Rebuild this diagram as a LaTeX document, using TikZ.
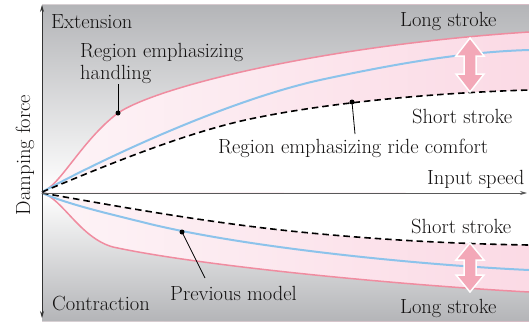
\documentclass[tikz,border=0pt]{standalone}
\usetikzlibrary{arrows.meta}
\definecolor{bggray}{RGB}{180,181,184}
\definecolor{pinkline}{RGB}{240,140,160}
\definecolor{blueline}{RGB}{140,195,235}
\definecolor{pinkL}{RGB}{253,244,247}
\definecolor{pinkR}{RGB}{251,218,229}
\definecolor{arrowpink}{RGB}{243,168,184}
\definecolor{txt}{RGB}{20,18,18}
\begin{document}
\begin{tikzpicture}[x=1pt,y=-1pt,
  lbl/.style={font=\fontsize{20.5}{23}\selectfont, text=txt, inner sep=0pt, anchor=base west},
  pinkcurve/.style={draw=pinkline, line width=1.5pt},
  bluecurve/.style={draw=blueline, line width=2pt},
  dashcurve/.style={draw=black, line width=1.6pt, dash pattern=on 6.5pt off 4pt},
  axis/.style={draw=black!80, line width=0.8pt},
  leader/.style={draw=black, line width=0.8pt},
  dotmark/.style={circle, fill=black, inner sep=0pt, minimum size=5pt},
  bigarrow/.style={fill=arrowpink, draw=white, line width=1.5pt, line join=miter}]
\def\pinkU{(42,192) .. controls (60,186) and (82,140) .. (118,113) .. controls (160,85) and (330,45) .. (529,32)}
\def\pinkD{(42,193) .. controls (62,198) and (80,238) .. (113,247) .. controls (200,266) and (400,285) .. (529,292)}
\def\blueU{(42,192) .. controls (110,155) and (230,100) .. (320,80) .. controls (390,65) and (460,52) .. (529,50)}
\def\blueD{(42,193) .. controls (70,205) and (110,214) .. (150,224) .. controls (250,248) and (420,265) .. (529,270)}
\def\dashU{(42,192) .. controls (100,168) and (190,130) .. (260,117) .. controls (330,103) and (430,93) .. (529,90)}
\def\dashD{(42,193) .. controls (100,203) and (200,222) .. (300,232) .. controls (380,240) and (460,244) .. (529,245)}
\useasboundingbox (0,0) rectangle (529,321);
% pink band background
\fill[left color=pinkL, right color=pinkR] (42,5) rectangle (529,321);
% gray top and bottom regions
\fill[top color=bggray, bottom color=white] (42,5) -- \pinkU -- (529,5) -- cycle;
\fill[top color=white, bottom color=bggray] (42,321) -- \pinkD -- (529,321) -- cycle;
% white middle regions
\fill[white] \dashU -- (529,193) -- cycle;
\fill[white] \dashD -- (529,193) -- cycle;
% curves
\draw[pinkcurve] \pinkU;
\draw[pinkcurve] \pinkD;
\draw[bluecurve] \blueU;
\draw[bluecurve] \blueD;
\draw[dashcurve] \dashU;
\draw[dashcurve] \dashD;
% axes
\coordinate (o) at (42,193);
\coordinate (ytop) at (42,5);
\coordinate (ybot) at (42,318);
\coordinate (xend) at (527,193);
\draw[axis, {Stealth[length=7pt,width=4pt]}-{Stealth[length=7pt,width=4pt]}] (ybot) -- (ytop);
\draw[axis, draw=black!65, -{Stealth[length=7pt,width=4pt]}] (o) -- (xend);
% big arrows
\path[bigarrow] (470,38) -- (484,56) -- (476,56) -- (476,74) -- (484,74) -- (470,92) -- (456,74) -- (464,74) -- (464,56) -- (456,56) -- cycle;
\path[bigarrow] (470,243) -- (484,260) -- (476,260) -- (476,275) -- (484,275) -- (470,292) -- (456,275) -- (464,275) -- (464,260) -- (456,260) -- cycle;
% dots and leaders
\node[dotmark] (d1) at (118,113) {};
\node[dotmark] (d2) at (352,102) {};
\node[dotmark] (d3) at (182,232) {};
\coordinate (l1) at (118,84);
\coordinate (l2) at (355,134);
\coordinate (l3) at (205,278);
\draw[leader] (d1.center) -- (l1);
\draw[leader] (d2.center) -- (l2);
\draw[leader] (d3.center) -- (l3);
% labels
\node[lbl] (ext) at (51,29) {Extension};
\node[lbl] (reh1) at (80,57) {Region emphasizing};
\node[lbl] (reh2) at (80,79) {handling};
\node[lbl] (ls1) at (400,27) {Long stroke};
\node[lbl] (ss1) at (412,123) {Short stroke};
\node[lbl] (rer) at (218,153) {Region emphasizing ride comfort};
\node[lbl] (is) at (427,184) {Input speed};
\node[lbl] (ss2) at (411,233) {Short stroke};
\node[lbl] (pm) at (170,300) {Previous model};
\node[lbl] (ls2) at (400,313) {Long stroke};
\node[lbl] (con) at (52,310) {Contraction};
\node[lbl, anchor=base, rotate=90] (df) at (30,155) {Damping force};
\end{tikzpicture}
\end{document}
